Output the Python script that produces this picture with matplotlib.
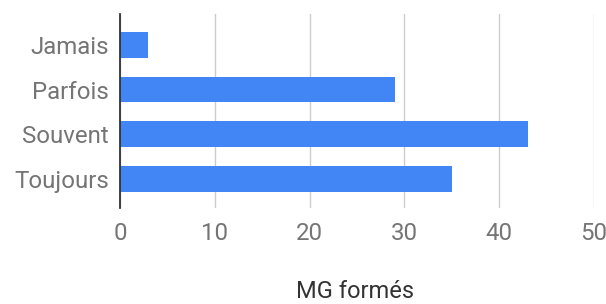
import matplotlib
matplotlib.use("Agg")
import matplotlib.pyplot as plt

categories = ["Jamais", "Parfois", "Souvent", "Toujours"]
values = [3, 29, 43, 35]
x_ticks = [0, 10, 20, 30, 40, 50]

plt.rcParams['font.family'] = ['Roboto', 'DejaVu Sans']

fig = plt.figure(figsize=(6.06, 3.04), dpi=100)
ax = fig.add_axes([0.198, 0.316, 0.782, 0.638])

ypos = list(range(len(categories)))
ax.barh(ypos, values, height=0.58, color='#4285F4', zorder=3)

ax.set_xlim(0, 50)
ax.set_ylim(3.65, -0.69)
ax.set_yticks(ypos)
ax.set_yticklabels(categories)
ax.set_xticks(x_ticks)

ax.grid(axis='x', color='#cccccc', linewidth=1, zorder=0)
for s in ['top', 'right', 'bottom']:
    ax.spines[s].set_visible(False)
ax.spines['left'].set_color('#333333')
ax.spines['left'].set_linewidth(1.3)
ax.spines['left'].set_zorder(4)

ax.tick_params(axis='both', length=0, labelsize=17.3, colors='#757575')
ax.tick_params(axis='y', pad=8)
ax.tick_params(axis='x', pad=10)

fig.text(0.586, 0.04, 'MG formés', ha='center', va='center',
         fontsize=17, color='#333333')

fig.savefig('out.png', dpi=100, facecolor='white')
